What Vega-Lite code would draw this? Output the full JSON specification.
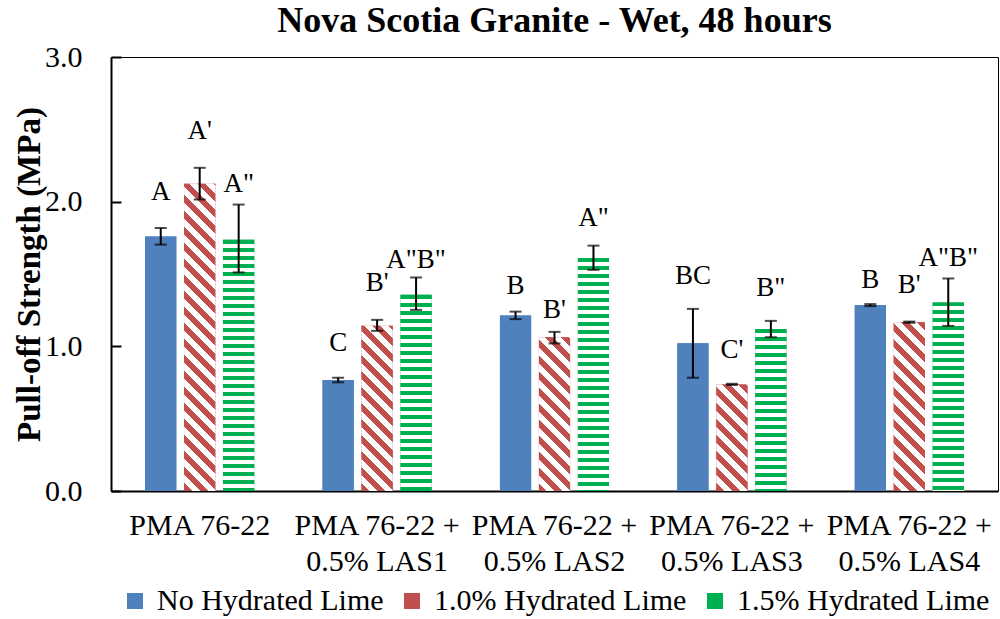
{
  "$schema": "https://vega.github.io/schema/vega-lite/v6.json",
  "autosize": {"type": "none"},
  "padding": {"left": 111, "top": 57, "right": 2, "bottom": 128},
  "width": 887,
  "height": 434,
  "background": "white",
  "title": {"text": "Nova Scotia Granite - Wet, 48 hours", "font": "Liberation Serif", "fontSize": 36, "fontWeight": "bold", "color": "black", "anchor": "middle", "offset": 2},
  "params": [
    {"name": "hstops", "value": [
      {"offset":0,"color":"#00B050"},{"offset":0.015625,"color":"#00B050"},{"offset":0.015625,"color":"#fff"},{"offset":0.03125,"color":"#fff"},
      {"offset":0.03125,"color":"#00B050"},{"offset":0.046875,"color":"#00B050"},{"offset":0.046875,"color":"#fff"},{"offset":0.0625,"color":"#fff"},
      {"offset":0.0625,"color":"#00B050"},{"offset":0.078125,"color":"#00B050"},{"offset":0.078125,"color":"#fff"},{"offset":0.09375,"color":"#fff"},
      {"offset":0.09375,"color":"#00B050"},{"offset":0.109375,"color":"#00B050"},{"offset":0.109375,"color":"#fff"},{"offset":0.125,"color":"#fff"},
      {"offset":0.125,"color":"#00B050"},{"offset":0.140625,"color":"#00B050"},{"offset":0.140625,"color":"#fff"},{"offset":0.15625,"color":"#fff"},
      {"offset":0.15625,"color":"#00B050"},{"offset":0.171875,"color":"#00B050"},{"offset":0.171875,"color":"#fff"},{"offset":0.1875,"color":"#fff"},
      {"offset":0.1875,"color":"#00B050"},{"offset":0.203125,"color":"#00B050"},{"offset":0.203125,"color":"#fff"},{"offset":0.21875,"color":"#fff"},
      {"offset":0.21875,"color":"#00B050"},{"offset":0.234375,"color":"#00B050"},{"offset":0.234375,"color":"#fff"},{"offset":0.25,"color":"#fff"},
      {"offset":0.25,"color":"#00B050"},{"offset":0.265625,"color":"#00B050"},{"offset":0.265625,"color":"#fff"},{"offset":0.28125,"color":"#fff"},
      {"offset":0.28125,"color":"#00B050"},{"offset":0.296875,"color":"#00B050"},{"offset":0.296875,"color":"#fff"},{"offset":0.3125,"color":"#fff"},
      {"offset":0.3125,"color":"#00B050"},{"offset":0.328125,"color":"#00B050"},{"offset":0.328125,"color":"#fff"},{"offset":0.34375,"color":"#fff"},
      {"offset":0.34375,"color":"#00B050"},{"offset":0.359375,"color":"#00B050"},{"offset":0.359375,"color":"#fff"},{"offset":0.375,"color":"#fff"},
      {"offset":0.375,"color":"#00B050"},{"offset":0.390625,"color":"#00B050"},{"offset":0.390625,"color":"#fff"},{"offset":0.40625,"color":"#fff"},
      {"offset":0.40625,"color":"#00B050"},{"offset":0.421875,"color":"#00B050"},{"offset":0.421875,"color":"#fff"},{"offset":0.4375,"color":"#fff"},
      {"offset":0.4375,"color":"#00B050"},{"offset":0.453125,"color":"#00B050"},{"offset":0.453125,"color":"#fff"},{"offset":0.46875,"color":"#fff"},
      {"offset":0.46875,"color":"#00B050"},{"offset":0.484375,"color":"#00B050"},{"offset":0.484375,"color":"#fff"},{"offset":0.5,"color":"#fff"},
      {"offset":0.5,"color":"#00B050"},{"offset":0.515625,"color":"#00B050"},{"offset":0.515625,"color":"#fff"},{"offset":0.53125,"color":"#fff"},
      {"offset":0.53125,"color":"#00B050"},{"offset":0.546875,"color":"#00B050"},{"offset":0.546875,"color":"#fff"},{"offset":0.5625,"color":"#fff"},
      {"offset":0.5625,"color":"#00B050"},{"offset":0.578125,"color":"#00B050"},{"offset":0.578125,"color":"#fff"},{"offset":0.59375,"color":"#fff"},
      {"offset":0.59375,"color":"#00B050"},{"offset":0.609375,"color":"#00B050"},{"offset":0.609375,"color":"#fff"},{"offset":0.625,"color":"#fff"},
      {"offset":0.625,"color":"#00B050"},{"offset":0.640625,"color":"#00B050"},{"offset":0.640625,"color":"#fff"},{"offset":0.65625,"color":"#fff"},
      {"offset":0.65625,"color":"#00B050"},{"offset":0.671875,"color":"#00B050"},{"offset":0.671875,"color":"#fff"},{"offset":0.6875,"color":"#fff"},
      {"offset":0.6875,"color":"#00B050"},{"offset":0.703125,"color":"#00B050"},{"offset":0.703125,"color":"#fff"},{"offset":0.71875,"color":"#fff"},
      {"offset":0.71875,"color":"#00B050"},{"offset":0.734375,"color":"#00B050"},{"offset":0.734375,"color":"#fff"},{"offset":0.75,"color":"#fff"},
      {"offset":0.75,"color":"#00B050"},{"offset":0.765625,"color":"#00B050"},{"offset":0.765625,"color":"#fff"},{"offset":0.78125,"color":"#fff"},
      {"offset":0.78125,"color":"#00B050"},{"offset":0.796875,"color":"#00B050"},{"offset":0.796875,"color":"#fff"},{"offset":0.8125,"color":"#fff"},
      {"offset":0.8125,"color":"#00B050"},{"offset":0.828125,"color":"#00B050"},{"offset":0.828125,"color":"#fff"},{"offset":0.84375,"color":"#fff"},
      {"offset":0.84375,"color":"#00B050"},{"offset":0.859375,"color":"#00B050"},{"offset":0.859375,"color":"#fff"},{"offset":0.875,"color":"#fff"},
      {"offset":0.875,"color":"#00B050"},{"offset":0.890625,"color":"#00B050"},{"offset":0.890625,"color":"#fff"},{"offset":0.90625,"color":"#fff"},
      {"offset":0.90625,"color":"#00B050"},{"offset":0.921875,"color":"#00B050"},{"offset":0.921875,"color":"#fff"},{"offset":0.9375,"color":"#fff"},
      {"offset":0.9375,"color":"#00B050"},{"offset":0.953125,"color":"#00B050"},{"offset":0.953125,"color":"#fff"},{"offset":0.96875,"color":"#fff"},
      {"offset":0.96875,"color":"#00B050"},{"offset":0.984375,"color":"#00B050"},{"offset":0.984375,"color":"#fff"},{"offset":1,"color":"#fff"}
    ]},
    {"name": "dstops", "value": [
      {"offset":0,"color":"#C0504D"},{"offset":0.02,"color":"#C0504D"},{"offset":0.02,"color":"#fff"},{"offset":0.04,"color":"#fff"},
      {"offset":0.04,"color":"#C0504D"},{"offset":0.06,"color":"#C0504D"},{"offset":0.06,"color":"#fff"},{"offset":0.08,"color":"#fff"},
      {"offset":0.08,"color":"#C0504D"},{"offset":0.10,"color":"#C0504D"},{"offset":0.10,"color":"#fff"},{"offset":0.12,"color":"#fff"},
      {"offset":0.12,"color":"#C0504D"},{"offset":0.14,"color":"#C0504D"},{"offset":0.14,"color":"#fff"},{"offset":0.16,"color":"#fff"},
      {"offset":0.16,"color":"#C0504D"},{"offset":0.18,"color":"#C0504D"},{"offset":0.18,"color":"#fff"},{"offset":0.20,"color":"#fff"},
      {"offset":0.20,"color":"#C0504D"},{"offset":0.22,"color":"#C0504D"},{"offset":0.22,"color":"#fff"},{"offset":0.24,"color":"#fff"},
      {"offset":0.24,"color":"#C0504D"},{"offset":0.26,"color":"#C0504D"},{"offset":0.26,"color":"#fff"},{"offset":0.28,"color":"#fff"},
      {"offset":0.28,"color":"#C0504D"},{"offset":0.30,"color":"#C0504D"},{"offset":0.30,"color":"#fff"},{"offset":0.32,"color":"#fff"},
      {"offset":0.32,"color":"#C0504D"},{"offset":0.34,"color":"#C0504D"},{"offset":0.34,"color":"#fff"},{"offset":0.36,"color":"#fff"},
      {"offset":0.36,"color":"#C0504D"},{"offset":0.38,"color":"#C0504D"},{"offset":0.38,"color":"#fff"},{"offset":0.40,"color":"#fff"},
      {"offset":0.40,"color":"#C0504D"},{"offset":0.42,"color":"#C0504D"},{"offset":0.42,"color":"#fff"},{"offset":0.44,"color":"#fff"},
      {"offset":0.44,"color":"#C0504D"},{"offset":0.46,"color":"#C0504D"},{"offset":0.46,"color":"#fff"},{"offset":0.48,"color":"#fff"},
      {"offset":0.48,"color":"#C0504D"},{"offset":0.50,"color":"#C0504D"},{"offset":0.50,"color":"#fff"},{"offset":0.52,"color":"#fff"},
      {"offset":0.52,"color":"#C0504D"},{"offset":0.54,"color":"#C0504D"},{"offset":0.54,"color":"#fff"},{"offset":0.56,"color":"#fff"},
      {"offset":0.56,"color":"#C0504D"},{"offset":0.58,"color":"#C0504D"},{"offset":0.58,"color":"#fff"},{"offset":0.60,"color":"#fff"},
      {"offset":0.60,"color":"#C0504D"},{"offset":0.62,"color":"#C0504D"},{"offset":0.62,"color":"#fff"},{"offset":0.64,"color":"#fff"},
      {"offset":0.64,"color":"#C0504D"},{"offset":0.66,"color":"#C0504D"},{"offset":0.66,"color":"#fff"},{"offset":0.68,"color":"#fff"},
      {"offset":0.68,"color":"#C0504D"},{"offset":0.70,"color":"#C0504D"},{"offset":0.70,"color":"#fff"},{"offset":0.72,"color":"#fff"},
      {"offset":0.72,"color":"#C0504D"},{"offset":0.74,"color":"#C0504D"},{"offset":0.74,"color":"#fff"},{"offset":0.76,"color":"#fff"},
      {"offset":0.76,"color":"#C0504D"},{"offset":0.78,"color":"#C0504D"},{"offset":0.78,"color":"#fff"},{"offset":0.80,"color":"#fff"},
      {"offset":0.80,"color":"#C0504D"},{"offset":0.82,"color":"#C0504D"},{"offset":0.82,"color":"#fff"},{"offset":0.84,"color":"#fff"},
      {"offset":0.84,"color":"#C0504D"},{"offset":0.86,"color":"#C0504D"},{"offset":0.86,"color":"#fff"},{"offset":0.88,"color":"#fff"},
      {"offset":0.88,"color":"#C0504D"},{"offset":0.90,"color":"#C0504D"},{"offset":0.90,"color":"#fff"},{"offset":0.92,"color":"#fff"},
      {"offset":0.92,"color":"#C0504D"},{"offset":0.94,"color":"#C0504D"},{"offset":0.94,"color":"#fff"},{"offset":0.96,"color":"#fff"},
      {"offset":0.96,"color":"#C0504D"},{"offset":0.98,"color":"#C0504D"},{"offset":0.98,"color":"#fff"},{"offset":1,"color":"#fff"}
    ]}
  ],
  "data": {"values": [
    {"cat": "PMA 76-22", "series": "No Hydrated Lime", "value": 1.76, "lo": 1.703, "hi": 1.818, "letter": "A", "lpos": 2.068},
    {"cat": "PMA 76-22", "series": "1.0% Hydrated Lime", "value": 2.123, "lo": 2.015, "hi": 2.234, "letter": "A'", "lpos": 2.488},
    {"cat": "PMA 76-22", "series": "1.5% Hydrated Lime", "value": 1.737, "lo": 1.511, "hi": 1.98, "letter": "A\"", "lpos": 2.125},
    {"cat": "PMA 76-22 +|0.5% LAS1", "series": "No Hydrated Lime", "value": 0.767, "lo": 0.751, "hi": 0.783, "letter": "C", "lpos": 1.021},
    {"cat": "PMA 76-22 +|0.5% LAS1", "series": "1.0% Hydrated Lime", "value": 1.143, "lo": 1.107, "hi": 1.183, "letter": "B'", "lpos": 1.44},
    {"cat": "PMA 76-22 +|0.5% LAS1", "series": "1.5% Hydrated Lime", "value": 1.356, "lo": 1.252, "hi": 1.476, "letter": "A\"B\"", "lpos": 1.599},
    {"cat": "PMA 76-22 +|0.5% LAS2", "series": "No Hydrated Lime", "value": 1.213, "lo": 1.188, "hi": 1.24, "letter": "B", "lpos": 1.419},
    {"cat": "PMA 76-22 +|0.5% LAS2", "series": "1.0% Hydrated Lime", "value": 1.063, "lo": 1.02, "hi": 1.10, "letter": "B'", "lpos": 1.252},
    {"cat": "PMA 76-22 +|0.5% LAS2", "series": "1.5% Hydrated Lime", "value": 1.61, "lo": 1.529, "hi": 1.696, "letter": "A\"", "lpos": 1.89},
    {"cat": "PMA 76-22 +|0.5% LAS3", "series": "No Hydrated Lime", "value": 1.021, "lo": 0.783, "hi": 1.259, "letter": "BC", "lpos": 1.483},
    {"cat": "PMA 76-22 +|0.5% LAS3", "series": "1.0% Hydrated Lime", "value": 0.737, "lo": 0.733, "hi": 0.741, "letter": "C'", "lpos": 0.975},
    {"cat": "PMA 76-22 +|0.5% LAS3", "series": "1.5% Hydrated Lime", "value": 1.12, "lo": 1.063, "hi": 1.176, "letter": "B\"", "lpos": 1.405},
    {"cat": "PMA 76-22 +|0.5% LAS4", "series": "No Hydrated Lime", "value": 1.285, "lo": 1.278, "hi": 1.292, "letter": "B", "lpos": 1.46},
    {"cat": "PMA 76-22 +|0.5% LAS4", "series": "1.0% Hydrated Lime", "value": 1.167, "lo": 1.163, "hi": 1.171, "letter": "B'", "lpos": 1.425},
    {"cat": "PMA 76-22 +|0.5% LAS4", "series": "1.5% Hydrated Lime", "value": 1.303, "lo": 1.141, "hi": 1.469, "letter": "A\"B\"", "lpos": 1.613}
  ]},
  "encoding": {
    "x": {"field": "cat", "type": "nominal", "sort": null,
      "scale": {"paddingInner": 0.385, "paddingOuter": 0.1925},
      "axis": {"title": null, "labelAngle": 0, "ticks": false, "domainColor": "black", "domainWidth": 2,
        "labelFont": "Liberation Serif", "labelFontSize": 30, "labelColor": "black", "labelPadding": 19, "labelBaseline": "top",
        "labelLineHeight": 36, "labelExpr": "split(datum.label, '|')", "labelLimit": 0}},
    "xOffset": {"field": "series", "type": "nominal",
      "scale": {"domain": ["No Hydrated Lime", "1.0% Hydrated Lime", "1.5% Hydrated Lime"], "paddingInner": 0.2, "paddingOuter": 0}},
    "y": {"type": "quantitative"}
  },
  "layer": [
    {
      "mark": {"type": "bar"},
      "encoding": {
        "y": {"field": "value", "type": "quantitative",
          "scale": {"domain": [0, 3], "nice": false},
          "axis": {"title": "Pull-off Strength (MPa)", "values": [0, 1, 2, 3], "format": ".1f", "grid": false,
            "domainColor": "black", "domainWidth": 2, "tickColor": "black", "tickWidth": 2, "tickSize": -10,
            "labelFont": "Liberation Serif", "labelFontSize": 30, "labelColor": "black", "labelPadding": 39,
            "titleFont": "Liberation Serif", "titleFontSize": 33, "titleFontWeight": "bold", "titleColor": "black", "titlePadding": -2}},
        "color": {"field": "series", "type": "nominal",
          "scale": {"domain": ["No Hydrated Lime", "1.0% Hydrated Lime", "1.5% Hydrated Lime"], "range": ["#4F81BD", "#C0504D", "#00B050"]},
          "legend": {"title": null, "orient": "bottom", "direction": "horizontal", "symbolType": "square", "symbolSize": 256,
            "symbolStrokeWidth": 0, "labelFont": "Liberation Serif", "labelFontSize": 30, "labelColor": "black",
            "columnPadding": 13, "labelOffset": 7, "padding": 0, "offset": 10, "labelLimit": 0,
            "encode": {"symbols": {"update": {"fill": {"signal": "datum.value === '1.0% Hydrated Lime' ? {gradient:'linear', x1:0, y1:1, x2:5, y2:-4, stops: dstops} : datum.value === '1.5% Hydrated Lime' ? {gradient:'linear', x1:0, y1:0, x2:0, y2:11, stops: hstops} : '#4F81BD'"}}}}}}
      }
    },
    {
      "mark": {"type": "bar",
        "fill": {"expr": "datum.series === 'No Hydrated Lime' ? '#4F81BD' : datum.series === '1.0% Hydrated Lime' ? {gradient:'linear', x1:0, y1:1, x2: 400*bandwidth('xOffset')/(pow(bandwidth('xOffset'),2)+pow(scale('y',0)-scale('y',datum.value),2)), y2: 1-400*(scale('y',0)-scale('y',datum.value))/(pow(bandwidth('xOffset'),2)+pow(scale('y',0)-scale('y',datum.value),2)), stops: dstops} : {gradient:'linear', x1:0, y1:0, x2:0, y2: 256/(scale('y',0)-scale('y',datum.value)), stops: hstops}"}},
      "encoding": {"y": {"field": "value", "type": "quantitative"}}
    },
    {
      "mark": {"type": "rule", "color": "black", "strokeWidth": 2},
      "encoding": {"y": {"field": "lo", "type": "quantitative"}, "y2": {"field": "hi"}}
    },
    {
      "mark": {"type": "tick", "orient": "horizontal", "color": "black", "size": 12, "thickness": 2},
      "encoding": {"y": {"field": "lo", "type": "quantitative"}}
    },
    {
      "mark": {"type": "tick", "orient": "horizontal", "color": "black", "size": 12, "thickness": 2},
      "encoding": {"y": {"field": "hi", "type": "quantitative"}}
    },
    {
      "mark": {"type": "text", "font": "Liberation Serif", "fontSize": 27, "color": "black", "baseline": "middle"},
      "encoding": {"y": {"field": "lpos", "type": "quantitative"}, "text": {"field": "letter"}}
    }
  ],
  "config": {
    "view": {"stroke": "black", "strokeWidth": 1},
    "legend": {"layout": {"bottom": {"anchor": "middle"}}}
  }
}
